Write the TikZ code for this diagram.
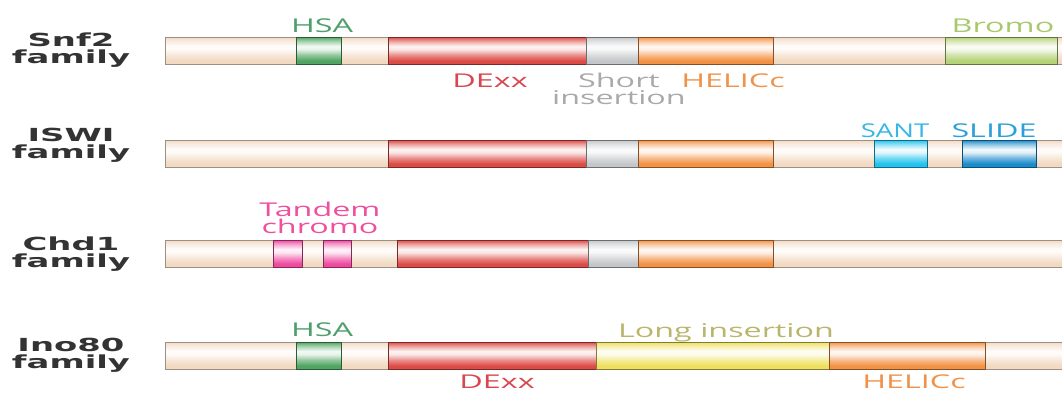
\documentclass[tikz,border=0pt]{standalone}
\usepackage{fontspec}
\newfontfamily\labfont[FakeStretch=1.7]{Open Sans}
\newfontfamily\famfont[FakeStretch=1.88]{DejaVu Sans}
\definecolor{tanc}{HTML}{F2D9C2}
\definecolor{tanb}{HTML}{9C8F86}
\definecolor{hsac}{HTML}{4FA561}
\definecolor{dexc}{HTML}{DC4B45}
\definecolor{insc}{HTML}{C4C6C9}
\definecolor{helc}{HTML}{F39245}
\definecolor{broc}{HTML}{B5D277}
\definecolor{santc}{HTML}{21C3EE}
\definecolor{slidec}{HTML}{1A8BCB}
\definecolor{chrc}{HTML}{EF4AA0}
\definecolor{longc}{HTML}{EEDF5E}
\definecolor{famc}{HTML}{333333}
\definecolor{thsa}{HTML}{4E9F6B}
\definecolor{tdex}{HTML}{D8474E}
\definecolor{tins}{HTML}{A9A9A9}
\definecolor{thel}{HTML}{F0924A}
\definecolor{tbro}{HTML}{A9C86C}
\definecolor{tsant}{HTML}{35B7E5}
\definecolor{tslide}{HTML}{2A9FD8}
\definecolor{tchr}{HTML}{EE4F9E}
\definecolor{tlong}{HTML}{B9B56C}
\newcommand\mkshade[1]{%
  \pgfdeclareverticalshading{sh#1}{100bp}{color(0bp)=(#1); color(25bp)=(#1);
    color(31bp)=(#1); color(41bp)=(#1!65!white); color(52bp)=(#1!14!white);
    color(58bp)=(#1!6!white); color(68bp)=(#1!55!white); color(75bp)=(#1); color(100bp)=(#1)}}
\mkshade{tanc}\mkshade{hsac}\mkshade{dexc}\mkshade{insc}\mkshade{helc}\mkshade{broc}
\mkshade{santc}\mkshade{slidec}\mkshade{chrc}\mkshade{longc}
\newcommand\seg[5]{%
  \pgfmathsetmacro\segw{#3-#2}%
  \node[segbox, shading=sh#5, draw=#5!55!black, minimum width=\segw pt,
        anchor=north west] (#1) at (#2,#4) {};}
\newcommand\protbar[2]{%
  \node[segbox, shading=shtanc, draw=tanb, minimum width=910pt,
        anchor=north west] (#1) at (165,#2) {};}
\begin{document}
\begin{tikzpicture}[x=1pt,y=-1pt,
  segbox/.style={inner sep=0pt, outer sep=0pt, minimum height=27pt, line width=0.7pt},
  fam/.style={font=\famfont\bfseries\fontsize{18}{17}\selectfont, text=famc, align=center, inner sep=0pt},
  lab/.style={font=\labfont\fontsize{19}{17}\selectfont, anchor=base, inner sep=0pt, align=center}]
\useasboundingbox (0,0) rectangle (1062,392);
\clip (0,0) rectangle (1062,392);
% row 1
\protbar{bar1}{37}
\seg{hsa1}{296}{341}{37}{hsac}
\seg{dex1}{388}{586}{37}{dexc}
\seg{ins1}{586}{638}{37}{insc}
\seg{hel1}{638}{773}{37}{helc}
\seg{bro1}{945}{1057}{37}{broc}
% row 2
\protbar{bar2}{140}
\seg{dex2}{388}{586}{140}{dexc}
\seg{ins2}{586}{638}{140}{insc}
\seg{hel2}{638}{773}{140}{helc}
\seg{sant2}{874}{927}{140}{santc}
\seg{slide2}{962}{1036}{140}{slidec}
% row 3
\protbar{bar3}{240}
\seg{chra3}{273}{302}{240}{chrc}
\seg{chrb3}{323}{351}{240}{chrc}
\seg{dex3}{397}{588}{240}{dexc}
\seg{ins3}{588}{638}{240}{insc}
\seg{hel3}{638}{773}{240}{helc}
% row 4
\protbar{bar4}{342}
\seg{hsa4}{296}{341}{342}{hsac}
\seg{dex4}{388}{596}{342}{dexc}
\seg{long4}{596}{829}{342}{longc}
\seg{hel4}{829}{985}{342}{helc}
% family labels
\node[fam] (f1) at (71,50) {Snf2\\family};
\node[fam] (f2) at (71,145) {ISWI\\family};
\node[fam] (f3) at (71,254) {Chd1\\family};
\node[fam] (f4) at (71,355) {Ino80\\family};
% domain labels
\node[lab, text=thsa] (l1) at (322,32) {HSA};
\node[lab, text=tdex] (l2) at (490,87) {DExx};
\node[lab, text=tins] (l3) at (619,104) {Short\\insertion};
\node[lab, text=thel] (l4) at (733,87) {HELICc};
\node[lab, text=tbro] (l5) at (1003,32) {Bromo};
\node[lab, text=tsant, xscale=0.85] (l6) at (895,137) {SANT};
\node[lab, text=tslide] (l7) at (994,137) {SLIDE};
\node[lab, text=tchr] (l8) at (320,233) {Tandem\\chromo};
\node[lab, text=thsa] (l9) at (322,336) {HSA};
\node[lab, text=tlong] (l10) at (726,337) {Long insertion};
\node[lab, text=tdex] (l11) at (497,388) {DExx};
\node[lab, text=thel] (l12) at (914,388) {HELICc};
\end{tikzpicture}
\end{document}
